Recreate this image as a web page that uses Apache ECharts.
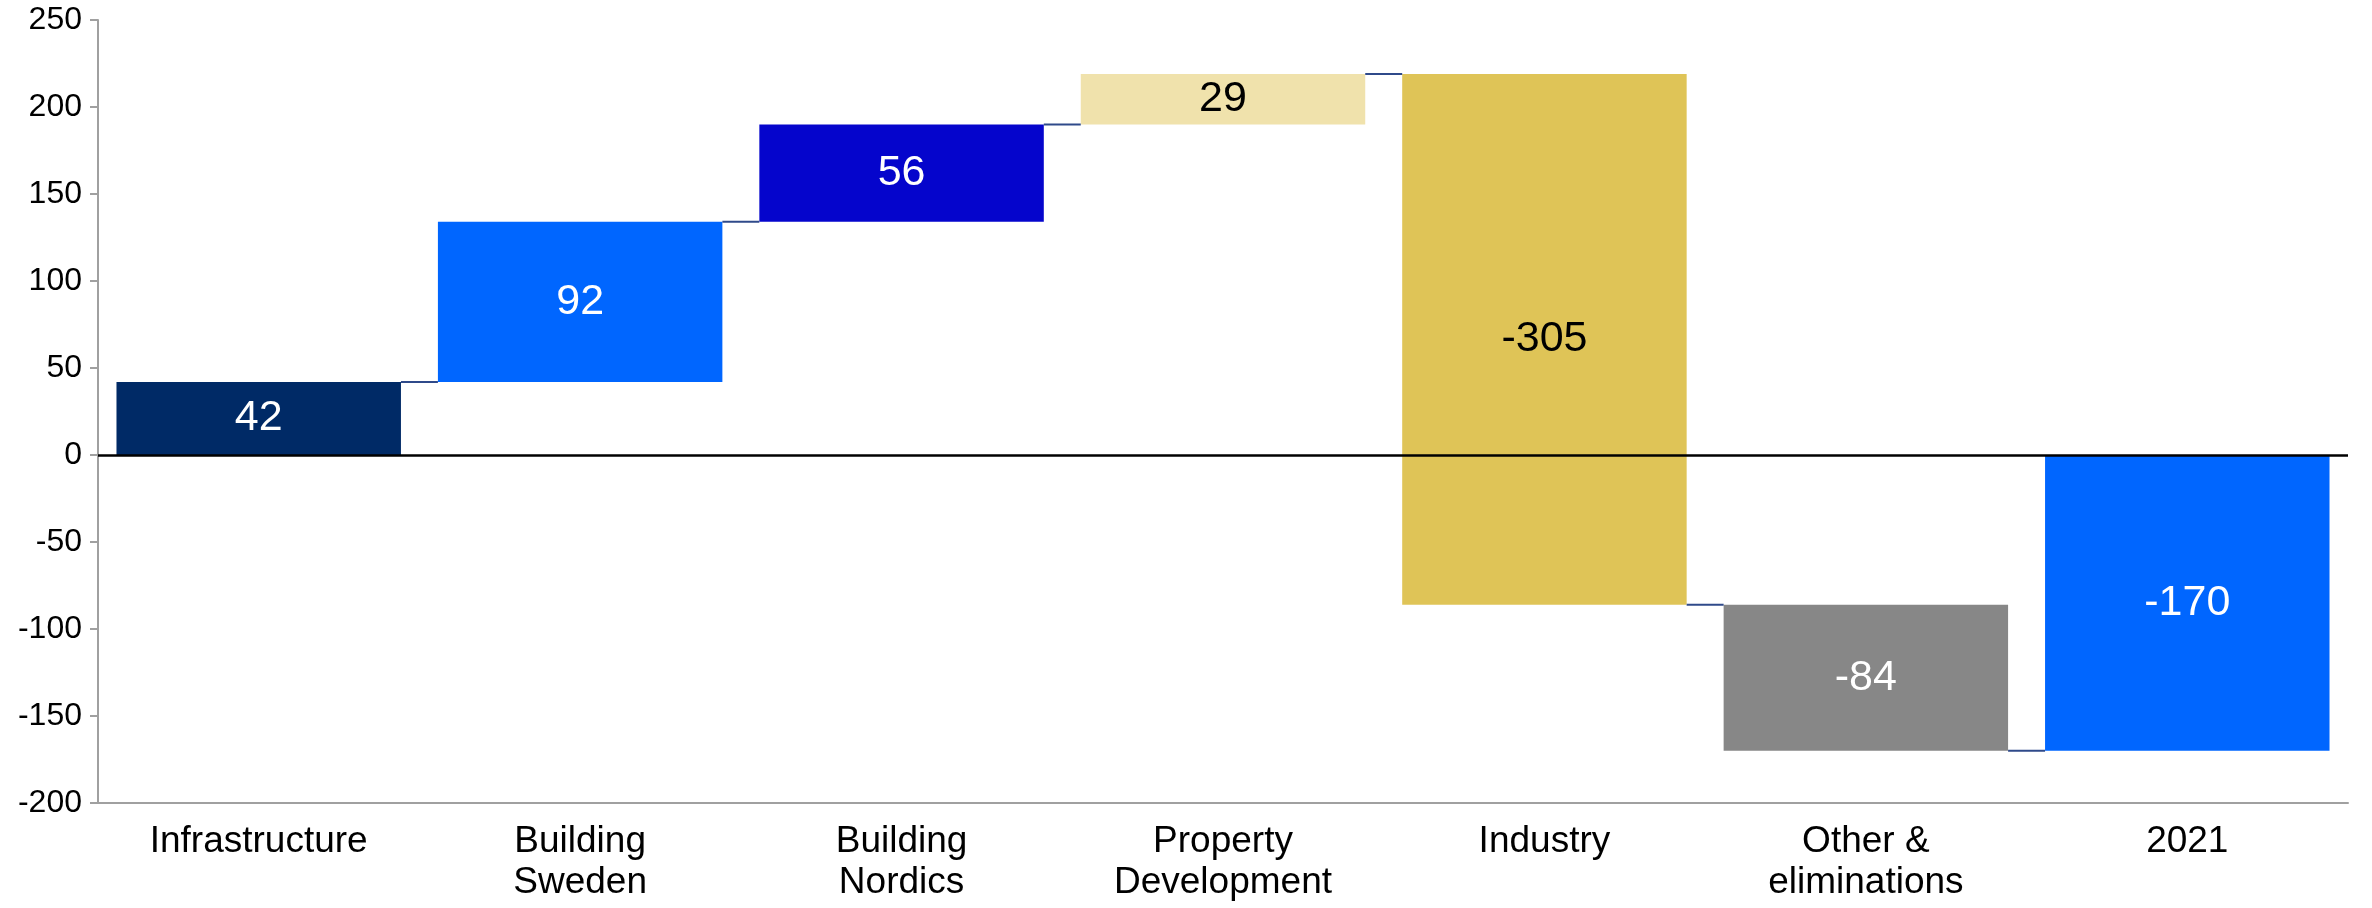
<!DOCTYPE html>
<html>
<head>
<meta charset="utf-8">
<script src="https://cdn.jsdelivr.net/npm/echarts@6/dist/echarts.min.js"></script>
<style>html,body{margin:0;padding:0;background:#fff}#c{width:2372px;height:908px}</style>
</head>
<body>
<div id="c"></div>
<script>
const categories = ['Infrastructure', 'Building\nSweden', 'Building\nNordics', 'Property\nDevelopment', 'Industry', 'Other &\neliminations', '2021'];
const deltas = [42, 92, 56, 29, -305, -84];
const totalValue = -170;
const yTicks = { min: -200, max: 250, interval: 50 };
const barColors = ['#002A66', '#0066FF', '#0505CC', '#F0E2AC', '#DFC457', '#878787', '#0066FF'];
const labelColors = ['#FFFFFF', '#FFFFFF', '#FFFFFF', '#000000', '#000000', '#FFFFFF', '#FFFFFF'];

// build bar ranges
const bars = [];
let run = 0;
deltas.forEach((d, i) => { bars.push([i, run, run + d, d]); run += d; });
bars.push([deltas.length, 0, totalValue, totalValue]);
const connectors = bars.slice(0, -1).map(b => [b[0], b[2]]);

const FONT = '"Liberation Sans", Arial, sans-serif';
const BAR_FRAC = 0.885;

const chart = echarts.init(document.getElementById('c'));
chart.setOption({
  animation: false,
  backgroundColor: '#fff',
  grid: { left: 98, right: 24, top: 20, bottom: 105 },
  xAxis: {
    type: 'category',
    data: categories,
    axisLine: { onZero: false, lineStyle: { color: '#A0A0A0', width: 2 } },
    axisTick: { show: false },
    axisLabel: { color: '#000', fontSize: 37, fontFamily: FONT, lineHeight: 41, margin: 18, interval: 0 },
    splitLine: { show: false }
  },
  yAxis: {
    type: 'value',
    min: yTicks.min, max: yTicks.max, interval: yTicks.interval,
    axisLine: { show: true, lineStyle: { color: '#A0A0A0', width: 2 } },
    axisTick: { show: true, length: 8, lineStyle: { color: '#A0A0A0', width: 2 } },
    axisLabel: { color: '#000', fontSize: 32, fontFamily: FONT, margin: 16 },
    splitLine: { show: false }
  },
  series: [
    {
      type: 'custom',
      data: bars,
      encode: { x: 0, y: [1, 2] },
      renderItem: function (params, api) {
        const i = api.value(0), lo = api.value(1), hi = api.value(2), v = api.value(3);
        const a = api.coord([i, lo]), b = api.coord([i, hi]);
        const w = api.size([1, 0])[0] * BAR_FRAC;
        return {
          type: 'rect',
          shape: { x: a[0] - w / 2, y: Math.min(a[1], b[1]), width: w, height: Math.abs(a[1] - b[1]) },
          style: { fill: barColors[i] },
          textContent: { style: { text: String(v), fill: labelColors[i], font: '43px ' + FONT } },
          textConfig: { position: 'inside' }
        };
      },
      markLine: {
        silent: true, symbol: 'none', label: { show: false },
        lineStyle: { color: '#000', width: 2.5, type: 'solid' },
        data: [{ yAxis: 0 }]
      },
      z: 2
    },
    {
      type: 'custom',
      data: connectors,
      encode: { x: 0, y: 1 },
      renderItem: function (params, api) {
        const i = api.value(0), lvl = api.value(1);
        const p = api.coord([i, lvl]), q = api.coord([i + 1, lvl]);
        const w = api.size([1, 0])[0] * BAR_FRAC;
        return {
          type: 'line',
          shape: { x1: p[0] + w / 2, y1: p[1], x2: q[0] - w / 2, y2: q[1] },
          style: { stroke: '#2F4A8A', lineWidth: 2 }
        };
      },
      z: 3
    }
  ]
});
</script>
</body>
</html>
